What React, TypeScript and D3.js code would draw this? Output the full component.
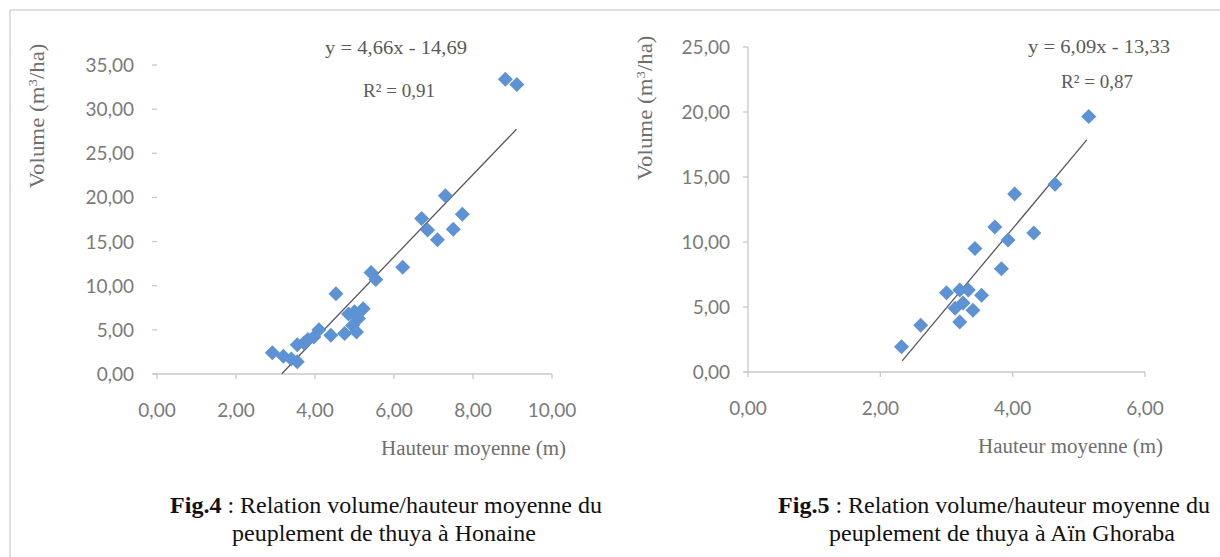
import React from "react";
import * as d3 from "d3";

// ---- Data: Fig.4 Honaine ----
const honaineHeight = [2.92, 3.2, 3.4, 3.55, 3.55, 3.72, 3.82, 3.97, 4.1, 4.4, 4.53, 4.75, 4.85, 4.95, 5.05, 5.0, 5.1, 5.22, 5.42, 5.54, 6.22, 6.7, 6.85, 7.1, 7.3, 7.5, 7.73, 8.82, 9.11];
const honaineVolume = [2.4, 2.0, 1.7, 1.4, 3.3, 3.5, 3.9, 4.2, 5.0, 4.4, 9.1, 4.6, 6.8, 5.5, 4.75, 7.05, 6.3, 7.4, 11.5, 10.7, 12.1, 17.6, 16.3, 15.2, 20.2, 16.4, 18.1, 33.4, 32.8];
const honaineSlope = 4.66;
const honaineIntercept = -14.69;
const honaineR2 = "0,91";
const honaineXTicks = [0, 2, 4, 6, 8, 10];
const honaineYTicks = [0, 5, 10, 15, 20, 25, 30, 35];

// ---- Data: Fig.5 Aïn Ghoraba ----
const ghorabaHeight = [2.32, 2.61, 3.0, 3.2, 3.33, 3.53, 3.13, 3.25, 3.4, 3.2, 3.43, 3.73, 3.83, 3.93, 4.03, 4.32, 4.64, 5.15];
const ghorabaVolume = [1.95, 3.6, 6.1, 6.3, 6.3, 5.9, 4.9, 5.3, 4.75, 3.85, 9.5, 11.15, 7.95, 10.15, 13.7, 10.7, 14.45, 19.65];
const ghorabaSlope = 6.09;
const ghorabaIntercept = -13.33;
const ghorabaR2 = "0,87";
const ghorabaXTicks = [0, 2, 4, 6];
const ghorabaYTicks = [0, 5, 10, 15, 20, 25];

const fmt = (v: number) => v.toFixed(2).replace(".", ",");
const fmtEq = (v: number) => Math.abs(v).toFixed(2).replace(".", ",");

const TICK_FONT = "Lato, 'Open Sans', sans-serif";
const SERIF = "'Liberation Serif', 'Times New Roman', serif";
const POINT = "#5d92d4";

type PanelProps = {
  xs: number[];
  ys: number[];
  slope: number;
  intercept: number;
  r2: string;
  xTicks: number[];
  yTicks: number[];
  xRange: [number, number];
  yRange: [number, number];
  lineX: [number, number];
  eqX: number;
  eqY: number;
  r2X: number;
  r2Y: number;
  yTitleX: number;
  yTitleY: number;
  xTitleEnd: number;
  yLabelGap: number;
  showYLine: boolean;
};

function Panel(p: PanelProps) {
  const x = d3.scaleLinear().domain([p.xTicks[0], p.xTicks[p.xTicks.length - 1]]).range(p.xRange);
  const y = d3.scaleLinear().domain([p.yTicks[0], p.yTicks[p.yTicks.length - 1]]).range(p.yRange);
  const y0 = y(0);
  const x0 = x(0);
  const r = 7.5;
  const diamond = (cx: number, cy: number) =>
    `M${cx},${cy - r}L${cx + r},${cy}L${cx},${cy + r}L${cx - r},${cy}Z`;
  const line = d3
    .line<number>()
    .x((d) => x(d))
    .y((d) => y(p.slope * d + p.intercept));
  return (
    <g>
      {/* x axis */}
      <line x1={x0 - 4} x2={p.xRange[1]} y1={y0} y2={y0} stroke="#c8c8c8" strokeWidth={1.3} />
      {p.xTicks.map((t) => (
        <g key={"xt" + t}>
          <line x1={x(t)} x2={x(t)} y1={y0} y2={y0 + 5} stroke="#c8c8c8" strokeWidth={1.3} />
          <text x={x(t)} y={y0 + 43} textAnchor="middle" fontFamily={TICK_FONT} fontSize={19} fill="#7a7a7a">
            {fmt(t)}
          </text>
        </g>
      ))}
      {/* y axis */}
      {p.showYLine && (
        <line x1={x0} x2={x0} y1={p.yRange[1]} y2={y0} stroke="#c8c8c8" strokeWidth={1.3} />
      )}
      {p.yTicks.map((t) => (
        <g key={"yt" + t}>
          <line x1={x0 - 5} x2={x0} y1={y(t)} y2={y(t)} stroke="#c8c8c8" strokeWidth={1.3} />
          <text x={x0 - p.yLabelGap} y={y(t) + 7} textAnchor="end" fontFamily={TICK_FONT} fontSize={19} fill="#7a7a7a">
            {fmt(t)}
          </text>
        </g>
      ))}
      {/* titles */}
      <text
        transform={`translate(${p.yTitleX},${p.yTitleY}) rotate(-90)`}
        textAnchor="middle"
        fontFamily={SERIF}
        fontSize={20}
        fill="#6e6e6e"
        textLength={145}
        lengthAdjust="spacingAndGlyphs"
      >
        Volume (m<tspan dy={-7} fontSize={13}>3</tspan>
        <tspan dy={7}>/ha)</tspan>
      </text>
      <text
        x={p.xTitleEnd}
        y={y0 + 81}
        textAnchor="end"
        fontFamily={SERIF}
        fontSize={20}
        fill="#6e6e6e"
        textLength={185}
        lengthAdjust="spacingAndGlyphs"
      >
        Hauteur moyenne (m)
      </text>
      {/* trend line */}
      <path d={line(p.lineX) || ""} fill="none" stroke="#5c5560" strokeWidth={1.3} />
      {/* points */}
      {p.xs.map((v, i) => (
        <path key={"pt" + i} d={diamond(x(v), y(p.ys[i]))} fill={POINT} />
      ))}
      {/* equation */}
      <text
        x={p.eqX}
        y={p.eqY}
        textAnchor="middle"
        fontFamily={SERIF}
        fontSize={19}
        fill="#5a5a5a"
        textLength={142}
        lengthAdjust="spacingAndGlyphs"
      >
        {`y = ${fmtEq(p.slope)}x - ${fmtEq(p.intercept)}`}
      </text>
      <text x={p.r2X} y={p.r2Y} textAnchor="middle" fontFamily={SERIF} fontSize={19} fill="#5a5a5a">
        {`R² = ${p.r2}`}
      </text>
    </g>
  );
}

export default function App() {
  return (
    <svg
      width={1220}
      height={557}
      style={{ position: "absolute", left: 0, top: 0, background: "#fff" }}
    >
      <rect x={0} y={0} width={1220} height={557} fill="#fff" />
      <line x1={10} x2={1220} y1={10} y2={10} stroke="#d4d4d4" strokeWidth={1.5} />
      <line x1={10} x2={10} y1={10} y2={557} stroke="#d4d4d4" strokeWidth={1.5} />
      <Panel
        xs={honaineHeight}
        ys={honaineVolume}
        slope={honaineSlope}
        intercept={honaineIntercept}
        r2={honaineR2}
        xTicks={honaineXTicks}
        yTicks={honaineYTicks}
        xRange={[157, 552]}
        yRange={[374, 65]}
        lineX={[3.16, 9.1]}
        eqX={396}
        eqY={54}
        r2X={399}
        r2Y={97}
        yTitleX={44}
        yTitleY={116}
        xTitleEnd={566}
        yLabelGap={23}
        showYLine={false}
      />
      <Panel
        xs={ghorabaHeight}
        ys={ghorabaVolume}
        slope={ghorabaSlope}
        intercept={ghorabaIntercept}
        r2={ghorabaR2}
        xTicks={ghorabaXTicks}
        yTicks={ghorabaYTicks}
        xRange={[748, 1145]}
        yRange={[372, 47]}
        lineX={[2.33, 5.12]}
        eqX={1099}
        eqY={53}
        r2X={1097}
        r2Y={88}
        yTitleX={652}
        yTitleY={108}
        xTitleEnd={1163}
        yLabelGap={18}
        showYLine={true}
      />
      {/* captions */}
      <text x={386} y={513} textAnchor="middle" fontFamily={SERIF} fontSize={24} fill="#111">
        <tspan fontWeight="bold">Fig.4</tspan> : Relation volume/hauteur moyenne du
      </text>
      <text x={384} y={541} textAnchor="middle" fontFamily={SERIF} fontSize={24} fill="#111">
        peuplement de thuya à Honaine
      </text>
      <text x={994} y={513} textAnchor="middle" fontFamily={SERIF} fontSize={24} fill="#111">
        <tspan fontWeight="bold">Fig.5</tspan> : Relation volume/hauteur moyenne du
      </text>
      <text x={1002} y={541} textAnchor="middle" fontFamily={SERIF} fontSize={24} fill="#111">
        peuplement de thuya à Aïn Ghoraba
      </text>
    </svg>
  );
}
